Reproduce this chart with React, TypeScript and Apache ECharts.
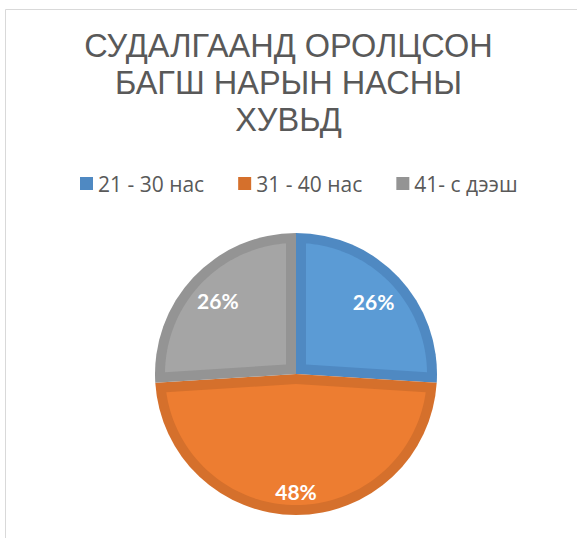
import React, { useEffect, useRef } from "react";
import * as echarts from "echarts";

const titleLines = ["СУДАЛГААНД ОРОЛЦСОН", "БАГШ НАРЫН НАСНЫ", "ХУВЬД"];
const categories = ["21 - 30 нас", "31 - 40 нас", "41- с дээш"];
const values = [26, 48, 26];
const percentLabels = ["26%", "48%", "26%"];
const lightColors = ["#5b9bd5", "#ed7d31", "#a5a5a5"];
const darkColors = ["#4f89c2", "#d5702c", "#949494"];

const CX = 296;
const CY = 374;
const R = 141;
const INSET = 10;
const labelRadiusFrac = [0.755, 0.83, 0.76];

export default function App() {
  const ref = useRef<HTMLDivElement>(null);
  useEffect(() => {
    if (!ref.current) return;
    const chart = echarts.init(ref.current, null, { renderer: "svg" });
    const total = values.reduce((a, b) => a + b, 0);
    const pt = (theta: number, rho: number) => [
      CX + rho * Math.sin(theta),
      CY - rho * Math.cos(theta),
    ];
    const renderItem = (params: any, api: any) => {
      const idx = params.dataIndex;
      let before = 0;
      for (let i = 0; i < idx; i++) before += values[i];
      const v = values[idx];
      const start = (before / total) * Math.PI * 2;
      const end = start + (v / total) * Math.PI * 2;
      const half = (end - start) / 2;
      const bis = start + half;
      const apexDist = INSET / Math.sin(Math.min(half, Math.PI / 2));
      const rho = R - INSET;
      const delta = Math.asin(INSET / rho);
      const points: number[][] = [pt(bis, apexDist)];
      const n = 80;
      for (let k = 0; k <= n; k++) {
        const t = start + delta + ((end - start - 2 * delta) * k) / n;
        points.push(pt(t, rho));
      }
      const lp = pt(bis, R * labelRadiusFrac[idx]);
      return {
        type: "group",
        children: [
          {
            type: "polygon",
            shape: { points },
            style: { fill: lightColors[idx] },
          },
          {
            type: "text",
            x: lp[0],
            y: lp[1],
            style: {
              text: percentLabels[idx],
              fill: "#ffffff",
              font: "bold 21px Lato, 'Open Sans', sans-serif",
              align: "center",
              verticalAlign: "middle",
            },
          },
        ],
      };
    };
    chart.setOption({
      animation: false,
      title: {
        text: titleLines.join("\n"),
        left: "center",
        top: 22,
        padding: [5, 5, 5, 17],
        textStyle: {
          fontFamily: "'Liberation Sans', Arial, sans-serif",
          fontSize: 32.5,
          fontWeight: "normal",
          color: "#595959",
          lineHeight: 37,
        },
      },
      legend: {
        top: 168,
        left: 75,
        itemWidth: 13,
        itemHeight: 13,
        itemGap: 34,
        icon: "rect",
        textStyle: {
          fontFamily: "'Open Sans', sans-serif",
          fontSize: 21,
          color: "#595959",
        },
        data: categories,
      },
      graphic: [
        {
          type: "line",
          shape: { x1: 5.5, y1: 9.5, x2: 577, y2: 9.5 },
          style: { stroke: "#d9d9d9", lineWidth: 1 },
          silent: true,
        },
        {
          type: "line",
          shape: { x1: 5.5, y1: 9.5, x2: 5.5, y2: 538 },
          style: { stroke: "#d9d9d9", lineWidth: 1 },
          silent: true,
        },
      ],
      series: [
        {
          type: "pie",
          center: [CX, CY],
          radius: R,
          startAngle: 90,
          clockwise: true,
          label: { show: false },
          labelLine: { show: false },
          itemStyle: { borderWidth: 0 },
          emphasis: { disabled: true },
          data: categories.map((c, i) => ({
            name: c,
            value: values[i],
            itemStyle: { color: darkColors[i] },
          })),
          color: lightColors,
        },
        {
          type: "custom",
          coordinateSystem: "none",
          renderItem,
          silent: true,
          z: 5,
          data: values.map((v, i) => ({ value: [v, i] })),
        },
      ],
    });
    return () => chart.dispose();
  }, []);
  return (
    <div
      ref={ref}
      style={{ position: "fixed", left: 0, top: 0, width: 577, height: 538, background: "#fff" }}
    />
  );
}
